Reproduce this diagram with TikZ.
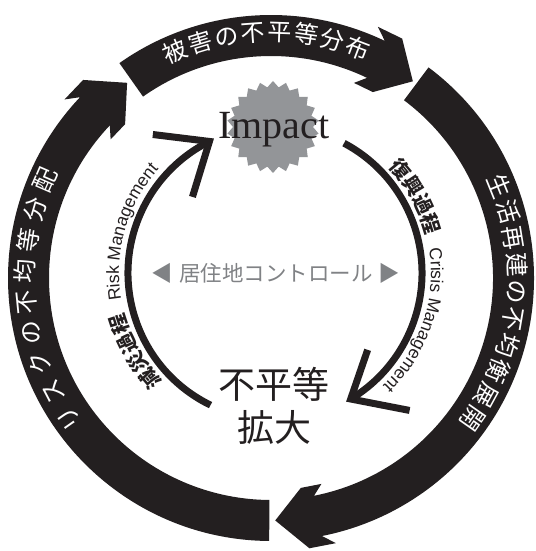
\documentclass[tikz,border=0pt]{standalone}
\usepackage{fontspec}
\setmainfont{Liberation Serif}
\setsansfont{Liberation Sans}
\newfontfamily\jfont{Noto Sans CJK JP}
\usetikzlibrary{decorations.text,shapes.geometric}
\definecolor{ink}{HTML}{231F20}
\definecolor{burst}{HTML}{939598}
\definecolor{ctrl}{HTML}{808285}
\newcommand\bandfont{\jfont\fontsize{24}{24}\selectfont}
\newcommand\procfont{\jfont\bfseries\fontsize{20}{20}\selectfont}
\newcommand\mgmtfont{\sffamily\fontsize{17.5}{17.5}\selectfont}
% one segment of the outer cycle: shaft from tail angle #1 clockwise
% to a barbed head whose tip sits at angle #2
\newcommand\RingArrow[2]{%
  \fill[ink] ({#1}:263) arc[start angle={#1}, end angle={#2+10.16}, radius=263]
    -- ({#2+12.76}:273) -- ({#2+7.09}:273) -- ({#2}:242.5)
    -- ({#2+7.09}:212) -- ({#2+12.76}:212) -- ({#2+10.16}:222)
    arc[start angle={#2+10.16}, end angle={#1}, radius=222] -- cycle;}
\begin{document}
\begin{tikzpicture}[x=1pt,y=1pt,
  loopline/.style={draw=ink, line width=7pt},
  loophead/.style={draw=ink, line width=7pt, miter limit=10},
  bandtext/.style={decorate, decoration={text along path, text align=fit to path,
      text color=white, text={|\bandfont|#1}}},
  proctext/.style={decorate, decoration={text along path, text align=center,
      text color=ink, text={|\procfont|#1}}},
  mgmttext/.style={decorate, decoration={text along path, text align=center,
      text color=ink, text={|\mgmtfont|#1}}},
]
\useasboundingbox (0,0) rectangle (535,551);

% outer cycle of three curved block arrows
\begin{scope}[shift={(271,273)}]
  \RingArrow{125.2}{54.2}
  \RingArrow{53.2}{-89}
  \RingArrow{269.6}{126.4}
  \path[bandtext={被害の不平等分布}] (115.9:237) arc[start angle=115.9, end angle=66.3, radius=237];
  \path[bandtext={生活再建の不均衡展開}] (24.8:237) arc[start angle=24.8, end angle=-37.8, radius=237];
  \path[bandtext={リスクの不均等分配}] (217.8:237) arc[start angle=217.8, end angle=153.6, radius=237];
\end{scope}

% impact burst and the two central statements
\node[star, star points=22, star point ratio=1.15, fill=burst, minimum size=92pt, inner sep=0pt] (burst) at (273,424) {};
\node[font=\fontsize{40}{40}\selectfont, anchor=base, text=ink] (impact) at (274,412) {Impact};
\node[font=\jfont\fontsize{37}{43}\selectfont, align=center, text=ink] (ineq) at (274,145.5) {不平等\\拡大};
\node[text=ctrl, font=\jfont\fontsize{21.5}{21.5}\selectfont] (ctrl) at (276,278) {◀\hspace{6pt}居住地コントロール\hspace{6pt}▶};

% inner loop: risk management up the left, crisis management down the right
\begin{scope}[shift={(275,278)}]
  \coordinate (riskfoot) at (244:147);
  \coordinate (risktip) at (116.5:147);
  \coordinate (crisisfoot) at (62:147);
  \coordinate (crisistip) at (-59:147);
  \draw[loopline] (riskfoot) arc[start angle=244, end angle=116.5, radius=147];
  \draw[loophead] ([shift={(173:57)}]risktip) -- (risktip) -- ([shift={(253:58)}]risktip);
  \draw[loopline] (crisisfoot) arc[start angle=62, end angle=-59, radius=147];
  \draw[loophead] ([shift={(71:52)}]crisistip) -- (crisistip) -- ([shift={(-11:60)}]crisistip);
  \path[proctext={減災過程}] (229.2:156) arc[start angle=229.2, end angle=189.2, radius=156];
  \path[mgmttext={Risk Management}] (194:156) arc[start angle=194, end angle=134, radius=156];
  \path[proctext={復興過程}] (48.5:156) arc[start angle=48.5, end angle=8.5, radius=156];
  \path[mgmttext={Crisis Management}] (11.3:156) arc[start angle=11.3, end angle=-48.7, radius=156];
\end{scope}
\end{tikzpicture}
\end{document}
